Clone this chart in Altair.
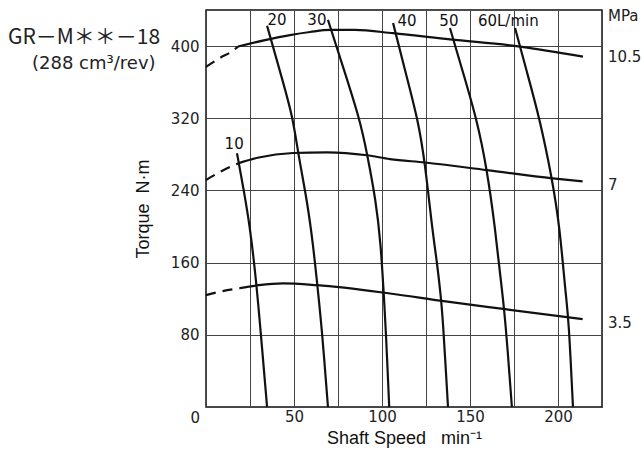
import altair as alt
import pandas as pd

# ---- pressure curves (speed min-1, torque N·m) ----
p105_dash_speed = [0, 8, 14.6, 18.2]
p105_dash_torque = [377, 387, 394, 399.5]
p105_speed = [18.2, 33.5, 47.7, 59.1, 70.5, 84.7, 106.3, 138.6, 178.4, 214.2]
p105_torque = [399.5, 406.6, 412.2, 415.6, 417.9, 417.9, 414.3, 407.4, 399.5, 388.4]

p70_dash_speed = [0, 9, 18.2]
p70_dash_torque = [251.6, 261.6, 270]
p70_speed = [18.2, 30, 49.4, 68.8, 91.5, 104.5, 124.4, 159.5, 197, 214]
p70_torque = [270, 276.5, 281.5, 282.3, 279, 274.8, 271, 262.6, 253.4, 250]

p35_dash_speed = [0, 9.5, 19.3]
p35_dash_torque = [124, 128.5, 131.7]
p35_speed = [19.3, 30, 43.8, 63, 104.5, 134, 170, 214]
p35_torque = [131.7, 135, 137, 135, 125.8, 117.6, 108.4, 97.3]

# ---- flow curves (L/min) ----
f10_speed = [17.6, 21.5, 25, 28.5, 31, 34.7]
f10_torque = [281.3, 240, 199.5, 140, 85, 0]
f20_speed = [34.7, 41.8, 49.4, 52.3, 57.4, 60.8, 63.8, 65.9, 69.3]
f20_torque = [422.5, 373.6, 321.5, 281, 229, 181, 125, 85, 0]
f30_speed = [69.3, 78.4, 87.5, 91.5, 96.5, 99.3, 101, 102.2, 104.1]
f30_torque = [429, 373.6, 318, 281, 229, 181, 125, 85, 0]
f40_speed = [106.3, 113, 120.5, 124.4, 128.4, 131.3, 133.3, 134.5, 137.5]
f40_torque = [425.5, 373.6, 318, 271, 199.5, 159.5, 125, 100, 0]
f50_speed = [138.6, 145.6, 154, 159.7, 164.2, 167.5, 170, 173.8]
f50_torque = [420, 373.6, 318, 262.6, 199.5, 140, 100, 0]
f60_speed = [175.6, 182, 189.8, 196.6, 201, 204.3, 206, 208.5]
f60_torque = [420, 373.6, 318, 253.4, 199.5, 125, 100, 0]

# ---- labels ----
flow_labels = ["10", "20", "30", "40", "50"]
flow_label_speed = [16, 40.3, 63, 114.2, 138]
flow_label_torque = [291, 429, 429, 428, 428]
flow60_label = "60L/min"
flow60_speed = 154.5
flow60_torque = 428

mpa_labels = ["MPa", "10.5", "7", "3.5"]
mpa_speed = [228.4, 228.4, 228.4, 228.4]
mpa_torque = [433, 388, 246, 93]

x_ticks = list(range(0, 226, 25))
y_ticks = list(range(0, 441, 40))


def frame(name, speeds, torques):
    return pd.DataFrame({"curve": name, "speed": speeds, "torque": torques,
                         "idx": list(range(len(speeds)))})


solid = pd.concat([frame("10.5", p105_speed, p105_torque),
                   frame("7", p70_speed, p70_torque),
                   frame("3.5", p35_speed, p35_torque)])
dashed = pd.concat([frame("10.5", p105_dash_speed, p105_dash_torque),
                    frame("7", p70_dash_speed, p70_dash_torque),
                    frame("3.5", p35_dash_speed, p35_dash_torque)])
flows = pd.concat([frame("10", f10_speed, f10_torque),
                   frame("20", f20_speed, f20_torque),
                   frame("30", f30_speed, f30_torque),
                   frame("40", f40_speed, f40_torque),
                   frame("50", f50_speed, f50_torque),
                   frame("60", f60_speed, f60_torque)])

xs = alt.Scale(domain=[0, 225], nice=False, zero=False)
ys = alt.Scale(domain=[0, 440], nice=False, zero=False)

x_enc = alt.X("speed:Q", scale=xs, axis=alt.Axis(
    values=x_ticks, grid=True, ticks=False, domain=False,
    labelExpr="datum.value % 50 == 0 && datum.value > 0 ? datum.label : ''",
    labelFont="DejaVu Sans", labelFontSize=15, labelColor="#222",
    labelPadding=2,
    title="Shaft Speed\u00a0\u00a0\u00a0min\u207b\u00b9", titleFont="Liberation Sans",
    titleFontSize=18, titleFontWeight="normal", titleColor="#111", titlePadding=5))
y_enc = alt.Y("torque:Q", scale=ys, axis=alt.Axis(
    values=y_ticks, grid=True, ticks=False, domain=False,
    labelExpr="datum.value % 80 == 0 && datum.value > 0 ? datum.label : ''",
    labelFont="DejaVu Sans", labelFontSize=15, labelColor="#222",
    labelPadding=7,
    title="Torque\u00a0\u00a0N\u00b7m", titleFont="Liberation Sans",
    titleFontSize=18, titleFontWeight="normal", titleColor="#111", titlePadding=18))

base_solid = alt.Chart(solid).mark_line(color="#111", strokeWidth=2.2, interpolate="monotone").encode(
    x=x_enc, y=y_enc, detail="curve:N", order="idx:Q")
base_dash = alt.Chart(dashed).mark_line(color="#111", strokeWidth=2.2, strokeDash=[10, 7],
                                        interpolate="monotone").encode(
    x="speed:Q", y="torque:Q", detail="curve:N", order="idx:Q")
flow_lines = alt.Chart(flows).mark_line(color="#111", strokeWidth=2.2, interpolate="basis").encode(
    x="speed:Q", y="torque:Q", detail="curve:N", order="idx:Q")

flow_lab_df = pd.DataFrame({"t": flow_labels, "speed": flow_label_speed, "torque": flow_label_torque})
flow_text = alt.Chart(flow_lab_df).mark_text(font="DejaVu Sans", fontSize=15, color="#111",
                                             align="center", baseline="middle").encode(
    x="speed:Q", y="torque:Q", text="t:N")
f60_df = pd.DataFrame({"t": [flow60_label], "speed": [flow60_speed], "torque": [flow60_torque]})
f60_text = alt.Chart(f60_df).mark_text(font="DejaVu Sans", fontSize=15, color="#111",
                                       align="left", baseline="middle").encode(
    x="speed:Q", y="torque:Q", text="t:N")

mpa_df = pd.DataFrame({"t": mpa_labels, "speed": mpa_speed, "torque": mpa_torque})
mpa_text = alt.Chart(mpa_df).mark_text(font="DejaVu Sans", fontSize=15, color="#222",
                                       align="left", baseline="middle").encode(
    x="speed:Q", y="torque:Q", text="t:N")

zero_df = pd.DataFrame({"t": ["0"], "speed": [0], "torque": [0]})
zero_text = alt.Chart(zero_df).mark_text(font="DejaVu Sans", fontSize=15, color="#222",
                                         align="right", baseline="top", dx=-6, dy=4).encode(
    x="speed:Q", y="torque:Q", text="t:N")

title1 = alt.Chart(pd.DataFrame({"t": ["GR\uff0dM\uff0a\uff0a\uff0d18"]})).mark_text(
    font="Noto Sans CJK JP", fontSize=21, color="#222", align="left", baseline="alphabetic").encode(
    x=alt.value(-198), y=alt.value(34), text="t:N")
title2 = alt.Chart(pd.DataFrame({"t": ["(288 cm\u00b3/rev)"]})).mark_text(
    font="DejaVu Sans", fontSize=18, color="#222", align="left", baseline="alphabetic").encode(
    x=alt.value(-174), y=alt.value(59), text="t:N")

chart = alt.layer(base_solid, base_dash, flow_lines, flow_text, f60_text, mpa_text,
                  zero_text, title1, title2).properties(
    width=396, height=397,
    autosize=alt.AutoSizeParams(type="none"),
    padding={"left": 206, "top": 10, "right": 42, "bottom": 47},
    background="white",
).configure_view(stroke="#111", strokeWidth=1.5).configure_axis(
    gridColor="#444", gridWidth=1, gridOpacity=1)

chart.save("out.html", embed_options={"renderer": "svg", "actions": False})
